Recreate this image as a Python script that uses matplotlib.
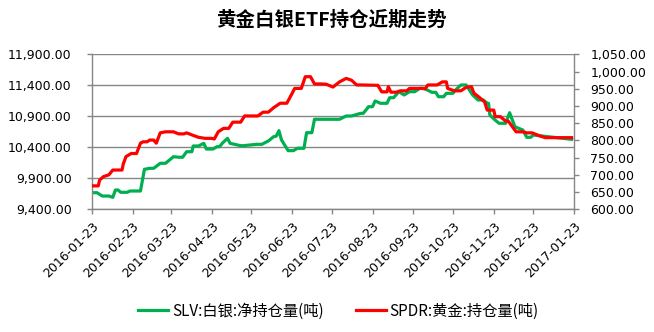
import numpy as np
import pandas as pd
import matplotlib
matplotlib.use("Agg")
import matplotlib.pyplot as plt
import matplotlib.dates as mdates
from matplotlib.ticker import FuncFormatter, FixedLocator

plt.rcParams['font.family'] = ['DejaVu Sans', 'Noto Sans CJK SC']

# SLV silver holdings (tonnes), left axis
slv_dates = ["2016-01-23", "2016-01-27", "2016-01-31", "2016-02-05", "2016-02-08", "2016-02-10",
             "2016-02-12", "2016-02-14", "2016-02-19", "2016-02-21", "2016-02-27", "2016-02-29",
             "2016-03-03", "2016-03-07", "2016-03-10", "2016-03-15", "2016-03-17", "2016-03-19",
             "2016-03-25", "2016-03-29", "2016-04-01", "2016-04-04", "2016-04-08", "2016-04-09",
             "2016-04-13", "2016-04-17", "2016-04-19", "2016-04-24", "2016-04-27", "2016-04-29",
             "2016-05-01", "2016-05-05", "2016-05-07", "2016-05-15", "2016-05-17", "2016-05-27",
             "2016-05-31", "2016-06-05", "2016-06-09", "2016-06-11", "2016-06-13", "2016-06-15",
             "2016-06-20", "2016-06-24", "2016-06-27", "2016-07-02", "2016-07-04", "2016-07-08",
             "2016-07-10", "2016-07-25", "2016-07-29", "2016-08-03", "2016-08-07", "2016-08-14",
             "2016-08-16", "2016-08-20", "2016-08-23", "2016-08-25", "2016-08-29", "2016-09-03",
             "2016-09-05", "2016-09-08", "2016-09-12", "2016-09-16", "2016-09-20", "2016-09-24",
             "2016-09-28", "2016-10-01", "2016-10-07", "2016-10-10", "2016-10-12", "2016-10-16",
             "2016-10-18", "2016-10-23", "2016-10-25", "2016-10-29", "2016-11-02", "2016-11-07",
             "2016-11-11", "2016-11-15", "2016-11-18", "2016-11-19", "2016-11-20", "2016-11-24",
             "2016-11-27", "2016-12-02", "2016-12-05", "2016-12-09", "2016-12-15", "2016-12-18",
             "2016-12-21", "2016-12-23", "2017-01-21"]
slv_values = [9668, 9668, 9614, 9614, 9593, 9711,
              9711, 9674, 9674, 9695, 9695, 9695,
              10045, 10061, 10061, 10142, 10142, 10142,
              10248, 10240, 10240, 10329, 10329, 10421,
              10421, 10464, 10372, 10372, 10410, 10410,
              10464, 10545, 10464, 10426, 10426, 10448,
              10448, 10502, 10571, 10580, 10668, 10518,
              10346, 10346, 10384, 10384, 10636, 10636,
              10852, 10852, 10852, 10905, 10905, 10948,
              10948, 11055, 11055, 11147, 11110, 11110,
              11200, 11200, 11297, 11244, 11297, 11297,
              11352, 11352, 11287, 11287, 11216, 11216,
              11271, 11271, 11324, 11405, 11405, 11244,
              11163, 11163, 11110, 11110, 10921, 10840,
              10787, 10787, 10958, 10732, 10679, 10561,
              10561, 10598, 10529]

# SPDR gold holdings (tonnes), right axis
gld_dates = ["2016-01-23", "2016-01-28", "2016-01-29", "2016-02-01", "2016-02-05", "2016-02-08",
             "2016-02-15", "2016-02-16", "2016-02-18", "2016-02-22", "2016-02-26", "2016-02-29",
             "2016-03-02", "2016-03-05", "2016-03-07", "2016-03-10", "2016-03-12", "2016-03-15",
             "2016-03-19", "2016-03-25", "2016-03-29", "2016-04-02", "2016-04-04", "2016-04-08",
             "2016-04-13", "2016-04-18", "2016-04-23", "2016-04-25", "2016-04-28", "2016-05-02",
             "2016-05-06", "2016-05-09", "2016-05-15", "2016-05-18", "2016-05-28", "2016-06-01",
             "2016-06-05", "2016-06-09", "2016-06-14", "2016-06-19", "2016-06-21", "2016-06-25",
             "2016-06-30", "2016-07-03", "2016-07-07", "2016-07-10", "2016-07-15", "2016-07-19",
             "2016-07-24", "2016-07-29", "2016-08-03", "2016-08-07", "2016-08-11", "2016-08-15",
             "2016-08-27", "2016-08-30", "2016-09-03", "2016-09-04", "2016-09-06", "2016-09-10",
             "2016-09-13", "2016-09-18", "2016-09-20", "2016-09-29", "2016-10-02", "2016-10-04",
             "2016-10-11", "2016-10-15", "2016-10-18", "2016-10-19", "2016-10-24", "2016-10-29",
             "2016-11-02", "2016-11-06", "2016-11-08", "2016-11-12", "2016-11-16", "2016-11-18",
             "2016-11-23", "2016-11-24", "2016-11-28", "2016-12-02", "2016-12-04", "2016-12-08",
             "2016-12-10", "2016-12-15", "2016-12-18", "2016-12-22", "2016-12-28", "2017-01-01",
             "2017-01-21"]
gld_values = [668, 668, 685, 695, 700, 714,
              714, 732, 753, 762, 762, 792,
              796, 796, 801, 801, 792, 822,
              825, 825, 819, 819, 822, 816,
              809, 806, 806, 804, 825, 835,
              835, 853, 853, 871, 871, 882,
              882, 895, 908, 908, 922, 951,
              951, 985, 985, 964, 964, 963,
              955, 970, 980, 975, 961, 961,
              960, 941, 941, 956, 940, 940,
              944, 944, 951, 951, 950, 961,
              961, 970, 970, 951, 944, 944,
              954, 956, 937, 925, 912, 888,
              888, 869, 869, 856, 856, 835,
              825, 825, 822, 822, 813, 808,
              808]

slv_x = pd.to_datetime(slv_dates)
gld_x = pd.to_datetime(gld_dates)

grey = "#868686"
cjk = ["Noto Sans CJK SC", "DejaVu Sans"]

fig = plt.figure(figsize=(6.54, 3.32), dpi=100)
ax = fig.add_axes([0.1402, 0.3696, 0.7378, 0.4668])
ax2 = ax.twinx()

l1, = ax.plot(slv_x, slv_values, color="#00B050", lw=2.3, solid_joinstyle="round",
              label="SLV:白银:净持仓量(吨)")
l2, = ax2.plot(gld_x, gld_values, color="#FF0000", lw=2.3, solid_joinstyle="round",
               label="SPDR:黄金:持仓量(吨)")

ax.set_ylim(9400, 11900)
ax.yaxis.set_major_locator(FixedLocator(np.arange(9400, 11901, 500)))
ax2.set_ylim(600, 1050)
ax2.yaxis.set_major_locator(FixedLocator(np.arange(600, 1051, 50)))
fmt = FuncFormatter(lambda v, p: f"{v:,.2f}")
ax.yaxis.set_major_formatter(fmt)
ax2.yaxis.set_major_formatter(fmt)

ax.set_xlim(pd.Timestamp("2016-01-23"), pd.Timestamp("2017-01-23"))
ax.xaxis.set_major_locator(mdates.MonthLocator(bymonthday=23))
ax.xaxis.set_major_formatter(mdates.DateFormatter("%Y-%m-%d"))

ax.grid(axis="y", color=grey, lw=1.0)
ax.set_axisbelow(True)
for a in (ax, ax2):
    a.spines["top"].set_visible(False)
    for s in ("left", "right", "bottom"):
        a.spines[s].set_color(grey)
        a.spines[s].set_linewidth(1.0)
    a.tick_params(axis="both", color=grey, length=3.5, width=1.0, labelsize=9,
                  labelcolor="black")
ax.spines["right"].set_visible(False)
ax2.spines["left"].set_visible(False)
ax2.spines["bottom"].set_visible(False)
ax.tick_params(axis="y", pad=11)
ax2.tick_params(axis="y", pad=8)
ax.tick_params(axis="x", pad=4)
for lab in ax.get_xticklabels():
    lab.set_rotation(45)
    lab.set_ha("right")
    lab.set_rotation_mode("anchor")

fig.text(0.507, 0.938, "黄金白银ETF持仓近期走势", ha="center", va="center",
         fontsize=14, fontweight="bold", family=cjk)

fig.legend(handles=[l1, l2], loc="center", bbox_to_anchor=(0.5176, 0.063), ncol=2,
           frameon=False, handlelength=1.96, columnspacing=2.1, handletextpad=0.26,
           prop={"family": cjk, "size": 11})

fig.savefig("out.png", dpi=100)
